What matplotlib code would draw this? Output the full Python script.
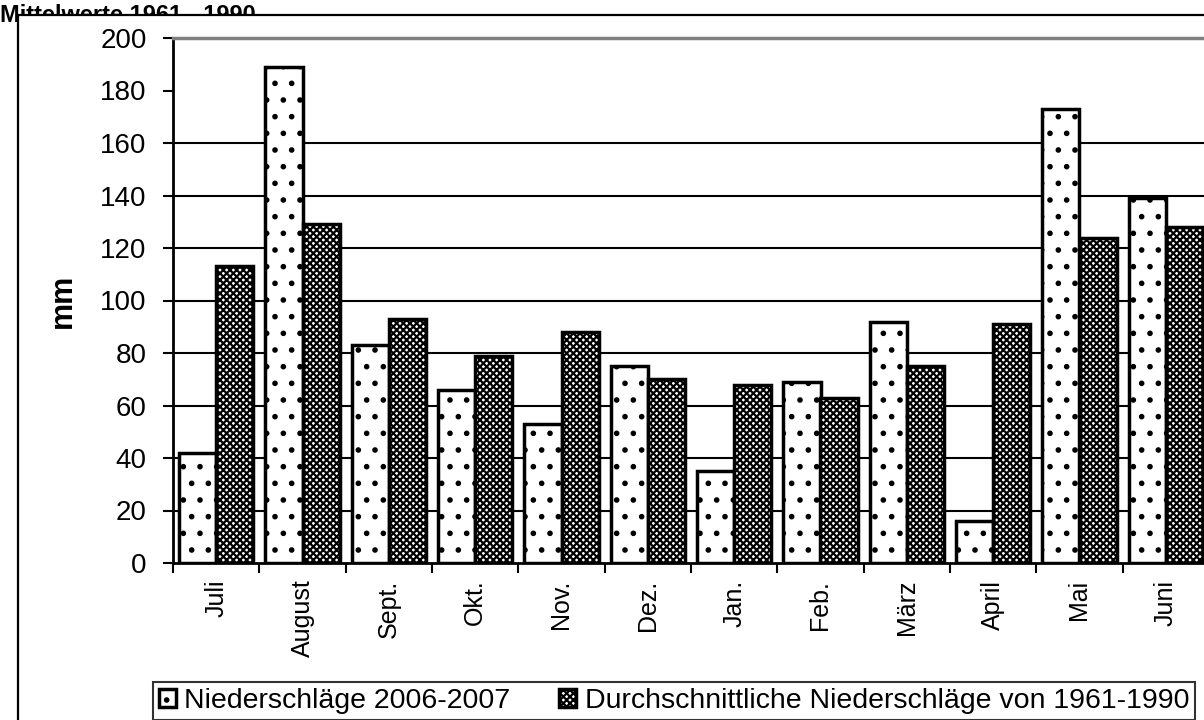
import matplotlib.pyplot as plt
import numpy as np
from matplotlib.patches import Rectangle

# Monatliche Niederschlagssummen (mm)
monate = ["Juli", "August", "Sept.", "Okt.", "Nov.", "Dez.",
          "Jan.", "Feb.", "März", "April", "Mai", "Juni"]
nied_2006_07 = [42, 189, 83, 66, 53, 75, 35, 69, 92, 16, 173, 139]
nied_mittel = [113, 129, 93, 79, 88, 70, 68, 63, 75, 91, 124, 128]

plt.rcParams["font.family"] = ["Liberation Sans", "DejaVu Sans"]
plt.rcParams["hatch.linewidth"] = 1.6

fig = plt.figure(figsize=(12.04, 7.2), dpi=100)

# Titel liegt hinter dem Diagrammrahmen
fig.text(0.0, 1 - 4 / 720, "Mittelwerte 1961 - 1990", fontsize=17,
         fontweight="bold", va="top", ha="left", zorder=-2)
fig.patches.append(Rectangle((18 / 1204, -0.1), 1.2, 1.079, transform=fig.transFigure,
                             facecolor="white", edgecolor="black", linewidth=1.6,
                             zorder=-1))

ax = fig.add_axes([173 / 1204, 157 / 720, 1036 / 1204, 525 / 720])

x = np.arange(len(monate))
w = 0.43
ax.bar(x - w / 2, nied_2006_07, w, facecolor="white", edgecolor="black",
       linewidth=2.5, hatch=".", label="Niederschläge 2006-2007")
ax.bar(x + w / 2, nied_mittel, w, facecolor="white", edgecolor="black",
       linewidth=2.5, hatch="xxxxx", label="Durchschnittliche Niederschläge von 1961-1990")

ax.set_xlim(-0.5, len(monate) - 0.5)
ax.set_ylim(0, 200)
ax.set_yticks(np.arange(0, 201, 20))
ax.yaxis.grid(True, color="black", linewidth=1.5)
ax.set_axisbelow(True)
for val, gl in zip(np.arange(0, 201, 20), ax.get_ygridlines()):
    if val in (0, 180, 200):
        gl.set_visible(False)

ax.set_xticks(np.arange(-0.5, len(monate), 1.0))
ax.set_xticklabels([])
ax.set_xticks(x, minor=True)
ax.set_xticklabels(monate, minor=True, rotation=90, fontsize=18)
ax.tick_params(axis="x", which="minor", length=0, pad=12)
ax.tick_params(axis="x", which="major", direction="out", length=7, width=1.5)
ax.tick_params(axis="y", direction="out", length=7, width=1.5, labelsize=20, pad=12)

ax.spines["left"].set_linewidth(2)
ax.spines["bottom"].set_linewidth(2)
ax.spines["top"].set_color("#808080")
ax.spines["top"].set_linewidth(2.5)

ax.set_ylabel("mm", fontsize=22, fontweight="bold", labelpad=16)

fig.legend(loc="center", bbox_to_anchor=(674 / 1204, 1 - 701 / 720), ncol=2,
           fontsize=20.5, frameon=True, fancybox=False, edgecolor="black",
           handlelength=0.6, handleheight=0.6, handletextpad=0.3,
           columnspacing=1.7, borderpad=0.2, borderaxespad=0)
fig.legends[0].get_frame().set_linewidth(1.5)

plt.savefig("out.png", dpi=100)
